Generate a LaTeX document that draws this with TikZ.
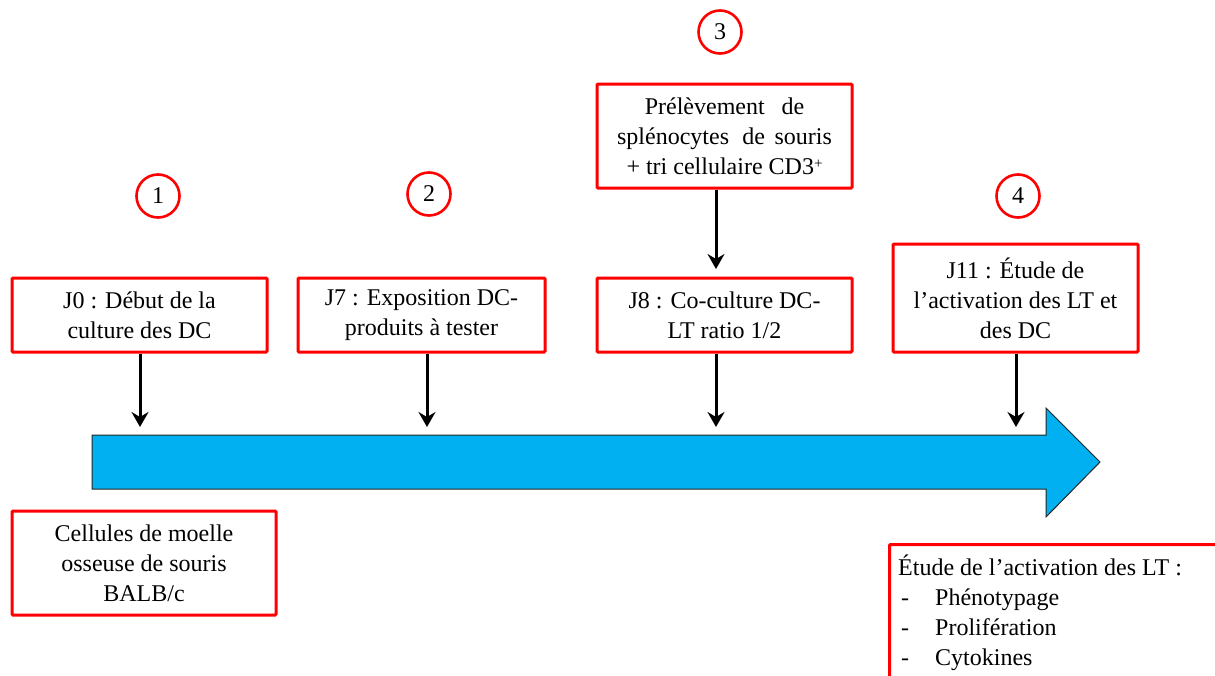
\documentclass[tikz,border=0pt]{standalone}
\usepackage{fontspec}
\setmainfont{Liberation Serif}
\usetikzlibrary{arrows.meta}
\definecolor{arrowblue}{HTML}{00B0F0}
\definecolor{boxred}{HTML}{FF0000}
\tikzset{
  redbox/.style={draw=boxred, line width=3pt, rounded corners=1pt, inner sep=2pt, align=center,
    font=\fontsize{24}{30}\selectfont},
  numcircle/.style={draw=boxred, line width=2.6pt, circle, minimum size=43pt, inner sep=0pt,
    font=\fontsize{24}{28}\selectfont},
  downarrow/.style={line width=3pt, -{Stealth[length=15pt,width=17pt,inset=5pt]}},
  bigarrow/.style={fill=arrowblue, draw=black!85, line width=1pt},
  plaintext/.style={inner sep=0pt, align=left, font=\fontsize{24}{30}\selectfont}
}
\begin{document}
\begin{tikzpicture}[x=1pt,y=-1pt]
\useasboundingbox (0,0) rectangle (1215,675);
\clip (0,0) rectangle (1215,675);
\fill[white] (0,0) rectangle (1215,675);

% big timeline arrow
\draw[bigarrow] (92,435) -- (1046,435) -- (1046,408) -- (1100,462) -- (1046,517) -- (1046,489) -- (92,489) -- cycle;

% boxes
\node[redbox, minimum width=255pt, minimum height=74pt] (b1) at (139.5,315) {J0 : Début de la\\culture des DC};
\node[redbox, minimum width=247pt, minimum height=74pt] (b2) at (421.5,315) {J7 : Exposition DC-\\produits à tester};
\node[redbox, minimum width=255pt, minimum height=104pt] (b3) at (724.5,136) {Prélèvement\hspace{0.7em}de\\splénocytes\hspace{0.55em}de\hspace{0.4em}souris\\+ tri cellulaire CD3\raisebox{0.5ex}{\fontsize{15}{15}\selectfont +}};
\node[redbox, minimum width=255pt, minimum height=74pt] (b4) at (724.5,315) {J8 : Co-culture DC-\\LT ratio 1/2};
\node[redbox, minimum width=245pt, minimum height=108pt] (b5) at (1015.5,298) {J11 : Étude de\\l’activation des LT et\\des DC};
\node[redbox, minimum width=264pt, minimum height=104pt] (b6) at (144,563) {Cellules de moelle\\osseuse de souris\\BALB/c};
\node[redbox, anchor=north west, minimum width=360pt, minimum height=170pt] (b7) at (888,543) {};
\node[plaintext, anchor=north west] (t7) at (898,555) {Étude de l’activation des LT :\\
\hspace{3pt}\makebox[34pt][l]{-}Phénotypage\\
\hspace{3pt}\makebox[34pt][l]{-}Prolifération\\
\hspace{3pt}\makebox[34pt][l]{-}Cytokines};

% numbered circles
\node[numcircle] (c1) at (158,196) {1};
\node[numcircle] (c2) at (429,194) {2};
\node[numcircle] (c3) at (720,32) {3};
\node[numcircle] (c4) at (1018,196) {4};

% arrow tips
\coordinate (a1) at (140,427);
\coordinate (a2) at (427,427);
\coordinate (a3) at (716,427);
\coordinate (a4) at (1016,427);
\coordinate (a0) at (716,269);

\draw[downarrow] (b1.south -| a1) -- (a1);
\draw[downarrow] (b2.south -| a2) -- (a2);
\draw[downarrow] (b4.south -| a3) -- (a3);
\draw[downarrow] (b5.south -| a4) -- (a4);
\draw[downarrow] (b3.south -| a0) -- (a0);
\end{tikzpicture}
\end{document}
